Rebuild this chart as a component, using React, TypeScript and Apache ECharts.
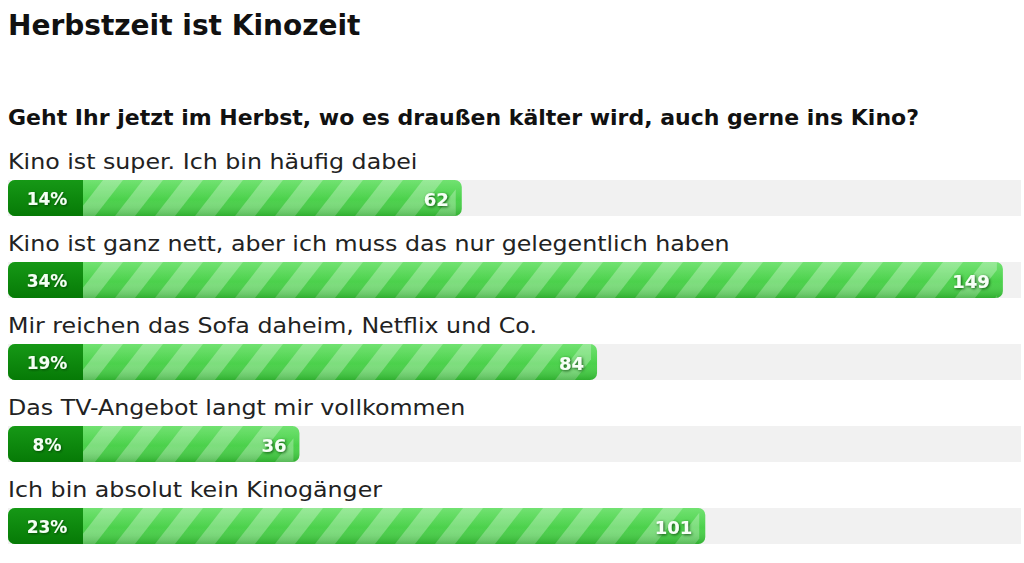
import React, { useEffect, useRef } from "react";
import * as echarts from "echarts";

const pollTitle = "Herbstzeit ist Kinozeit";
const question =
  "Geht Ihr jetzt im Herbst, wo es draußen kälter wird, auch gerne ins Kino?";

const categories = [
  "Kino ist super. Ich bin häufig dabei",
  "Kino ist ganz nett, aber ich muss das nur gelegentlich haben",
  "Mir reichen das Sofa daheim, Netflix und Co.",
  "Das TV-Angebot langt mir vollkommen",
  "Ich bin absolut kein Kinogänger",
];
const percents = [14, 34, 19, 8, 23];
const votes = [62, 149, 84, 36, 101];

const X_MAX = 34.67;
const BOX_W = 75;
const BAR_H = 36;
const ROW_SHIFT = 41; // bar sits at the bottom edge of its row band
const FONT = '"DejaVu Sans", Verdana, sans-serif';

// clip a polygon to the vertical strip minX..maxX
function clipX(pts: number[][], minX: number, maxX: number) {
  const clip = (poly: number[][], keep: (x: number) => boolean, edge: number) => {
    const out: number[][] = [];
    for (let i = 0; i < poly.length; i++) {
      const a = poly[i];
      const b = poly[(i + 1) % poly.length];
      const ia = keep(a[0]);
      const ib = keep(b[0]);
      if (ia) out.push(a);
      if (ia !== ib) {
        const t = (edge - a[0]) / (b[0] - a[0]);
        out.push([edge, a[1] + t * (b[1] - a[1])]);
      }
    }
    return out;
  };
  let p = clip(pts, (x) => x >= minX, minX);
  if (p.length) p = clip(p, (x) => x <= maxX, maxX);
  return p;
}

const renderRow = (params: any, api: any) => {
  const pct = api.value(0);
  const idx = api.value(1);
  const n = api.value(2);
  const [x0, bandY] = api.coord([0, idx]);
  const [x1] = api.coord([pct, idx]);
  const cy = bandY + ROW_SHIFT;
  const left = x0 - BOX_W;
  const top = cy - BAR_H / 2;
  const bot = cy + BAR_H / 2;
  const trackRight = params.coordSys.x + params.coordSys.width;

  const stripes: any[] = [];
  const P = 40, W = 20, S = 28;
  for (let s = x0 - W - S; s < x1; s += P) {
    const poly = clipX(
      [[s, bot], [s + W, bot], [s + W + S, top], [s + S, top]],
      x0,
      x1 - 6
    );
    if (poly.length > 2) {
      stripes.push({
        type: "polygon",
        shape: { points: poly },
        style: { fill: "rgba(255,255,255,0.28)" },
        silent: true,
      });
    }
  }

  return {
    type: "group",
    children: [
      {
        type: "text",
        x: left,
        y: cy - 36,
        scaleX: 1.13,
        style: {
          x: 0,
          y: 0,
          text: categories[idx],
          font: `21px ${FONT}`,
          fill: "#222",
          verticalAlign: "middle",
          align: "left",
        },
      },
      {
        type: "rect",
        shape: { x: left, y: top, width: trackRight - left, height: BAR_H },
        style: { fill: "#f1f1f1" },
      },
      {
        type: "rect",
        shape: { x: left, y: top, width: x1 - left, height: BAR_H, r: 7 },
        style: {
          fill: new echarts.graphic.LinearGradient(0, 0, 0, 1, [
            { offset: 0, color: "#5ede5e" },
            { offset: 1, color: "#3cc63c" },
          ]),
        },
      },
      ...stripes,
      {
        type: "rect",
        shape: { x: left, y: top, width: x1 - left, height: BAR_H, r: 7 },
        style: {
          fill: new echarts.graphic.LinearGradient(0, 0, 0, 1, [
            { offset: 0, color: "rgba(255,255,255,0.12)" },
            { offset: 0.55, color: "rgba(255,255,255,0)" },
            { offset: 1, color: "rgba(0,90,0,0.22)" },
          ]),
        },
      },
      {
        type: "rect",
        shape: { x: left, y: top, width: BOX_W, height: BAR_H, r: [7, 0, 0, 7] },
        style: {
          fill: new echarts.graphic.LinearGradient(0, 0, 0, 1, [
            { offset: 0, color: "#169816" },
            { offset: 1, color: "#067a06" },
          ]),
        },
      },
      {
        type: "text",
        style: {
          x: left + 39,
          y: cy + 1,
          text: percents[idx] + "%",
          font: `bold 17px ${FONT}`,
          fill: "#f4fff4",
          align: "center",
          verticalAlign: "middle",
          textShadowColor: "rgba(0,40,0,0.6)",
          textShadowBlur: 2,
          textShadowOffsetX: 1,
          textShadowOffsetY: 1,
        },
      },
      {
        type: "text",
        style: {
          x: x1 - 13,
          y: cy + 1,
          text: String(n),
          font: `bold 18px ${FONT}`,
          fill: "#f6fff6",
          align: "right",
          verticalAlign: "middle",
          textShadowColor: "rgba(0,60,0,0.85)",
          textShadowBlur: 3,
          textShadowOffsetX: 1,
          textShadowOffsetY: 1,
        },
      },
    ],
  };
};

const App: React.FC = () => {
  const chartRef = useRef<HTMLDivElement>(null);

  useEffect(() => {
    if (!chartRef.current) return;
    const myChart = echarts.init(chartRef.current, null, { renderer: "svg" });

    const option: echarts.EChartsOption = {
      animation: false,
      backgroundColor: "#fff",
      grid: { left: 83, right: 3, top: 116, height: 410 },
      xAxis: { type: "value", min: 0, max: X_MAX, show: false },
      yAxis: { type: "category", data: categories, inverse: true, show: false },
      graphic: [
        {
          type: "text",
          x: 8,
          y: 25,
          style: {
            text: pollTitle,
            font: `bold 28px ${FONT}`,
            fill: "#111",
            verticalAlign: "middle",
          },
        },
        {
          type: "text",
          x: 8,
          y: 117,
          style: {
            text: question,
            font: `bold 22px ${FONT}`,
            fill: "#111",
            verticalAlign: "middle",
          },
        },
      ],
      series: [
        {
          type: "custom",
          renderItem: renderRow as any,
          encode: { x: 0, y: 1 },
          data: categories.map((_, i) => [percents[i], i, votes[i]]),
        },
      ],
    };

    myChart.setOption(option);

    return () => {
      myChart.dispose();
    };
  }, []);

  return (
    <div
      ref={chartRef}
      style={{ position: "absolute", left: 0, top: 0, width: "1024px", height: "563px" }}
    />
  );
};

export default App;
